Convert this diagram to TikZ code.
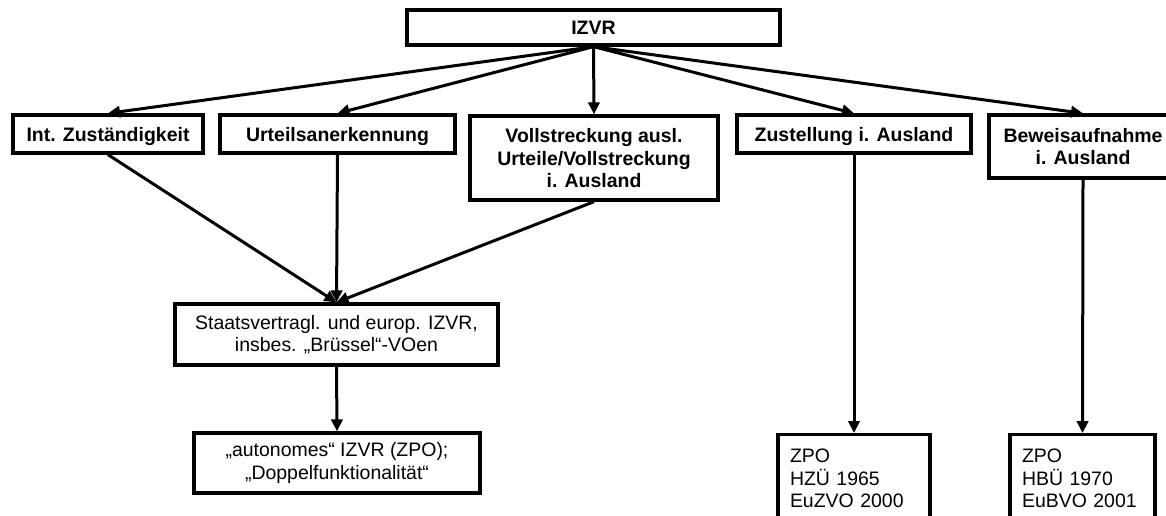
\documentclass[tikz,border=0pt]{standalone}
\usepackage{fontspec}
\setmainfont{Liberation Sans}
\usetikzlibrary{arrows.meta}
\begin{document}
\begin{tikzpicture}[x=0.75pt,y=-0.75pt,
  box/.style={draw, line width=2.5pt, align=center, inner sep=0pt,
    font=\fontsize{14.6}{16.9}\selectfont},
  bbox/.style={box, text depth=0pt, font=\fontsize{14.6}{16.9}\selectfont\bfseries},
  lbox/.style={box, align=left, anchor=north, inner xsep=9pt},
  conn/.style={line width=2.25pt, -{Triangle[length=9pt,width=8.5pt]}},
  plain/.style={line width=2.25pt}]
\useasboundingbox (0,0) rectangle (1166,515);
\clip (0,0) rectangle (1166,515);

\node[bbox, minimum width=279.75pt, minimum height=26.25pt] (izvr) at (593.5,27.5) {IZVR};

\node[bbox, minimum width=142.5pt, minimum height=28.5pt] (intz) at (108,134) {Int. Zuständigkeit};
\node[bbox, minimum width=176.25pt, minimum height=28.5pt] (urteil) at (337.5,134) {Urteilsanerkennung};
\node[bbox, minimum width=186pt, minimum height=63pt] (vollst) at (594,158) {Vollstreckung ausl.\\Urteile/Vollstreckung\\i. Ausland};
\node[bbox, minimum width=175.5pt, minimum height=28.5pt] (zust) at (854,134) {Zustellung i. Ausland};
\node[bbox, minimum width=141pt, minimum height=47.25pt] (beweis) at (1083,146.5) {Beweisaufnahme\\i. Ausland};

\node[box, minimum width=242.25pt, minimum height=45.75pt] (staats) at (336.5,334.5) {Staatsvertragl. und europ. IZVR,\\insbes. „Brüssel“-VOen};
\node[box, minimum width=214.5pt, minimum height=45pt] (auto) at (337,463) {„autonomes“ IZVR (ZPO);\\„Doppelfunktionalität“};

\node[lbox, text width=96pt, minimum height=66pt] (zpo1) at (854,433) {ZPO\\HZÜ 1965\\EuZVO 2000};
\node[lbox, text width=90.75pt, minimum height=66pt] (zpo2) at (1082.5,433) {ZPO\\HBÜ 1970\\EuBVO 2001};

\foreach \t in {intz,urteil,vollst,zust,beweis}
  \draw[conn] (izvr.south) -- (\t.north);

\draw[conn] (intz.south) -- (staats.north);
\draw[conn] (urteil.south) -- (staats.north);
\draw[conn] (vollst.south) -- (staats.north);
\draw[conn] (staats.south) -- (auto.north);
\draw[conn] (zust.south) -- (zpo1.north);
\draw[conn] (beweis.south) -- (zpo2.north);
\end{tikzpicture}
\end{document}
